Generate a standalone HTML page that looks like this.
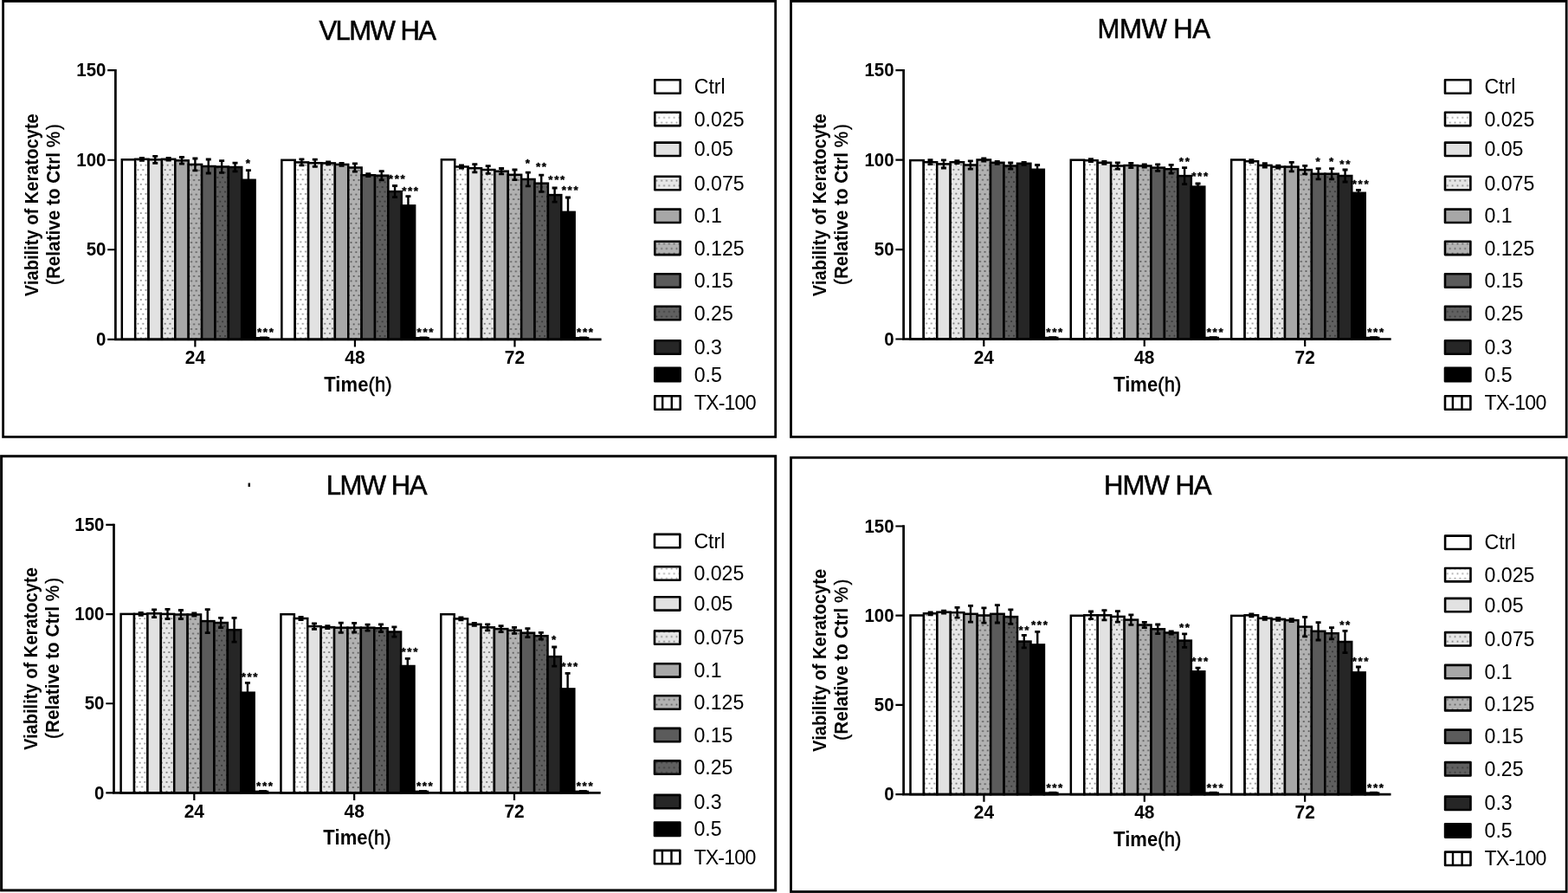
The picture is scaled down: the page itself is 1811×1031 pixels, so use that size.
<!DOCTYPE html>
<html><head><meta charset="utf-8"><title>Keratocyte viability</title>
<style>
html,body{margin:0;padding:0;background:#fff;}
body{width:1811px;height:1031px;overflow:hidden;}
svg{display:block;font-family:"Liberation Sans", Arial, Helvetica, sans-serif;}
</style></head><body>
<svg width="1811" height="1031" viewBox="0 0 1811 1031">
<rect width="1811" height="1031" fill="#fff"/>
<defs>
<pattern id="p025" patternUnits="userSpaceOnUse" width="5.8" height="11.2" x="0" y="0"><rect width="5.8" height="11.2" fill="#ffffff"/><rect x="0.6" y="0.6" width="1.7" height="1.7" fill="#9a9a9a"/><rect x="3.5" y="6.2" width="1.7" height="1.7" fill="#9a9a9a"/></pattern>
<pattern id="p075" patternUnits="userSpaceOnUse" width="5.8" height="11.2" x="0" y="0"><rect width="5.8" height="11.2" fill="#e6e6e6"/><rect x="0.6" y="0.6" width="1.7" height="1.7" fill="#7a7a7a"/><rect x="3.5" y="6.2" width="1.7" height="1.7" fill="#7a7a7a"/></pattern>
<pattern id="p125" patternUnits="userSpaceOnUse" width="5.8" height="11.2" x="0" y="0"><rect width="5.8" height="11.2" fill="#b2b2b2"/><rect x="0.6" y="0.6" width="1.7" height="1.7" fill="#5c5c5c"/><rect x="3.5" y="6.2" width="1.7" height="1.7" fill="#5c5c5c"/></pattern>
<pattern id="p25" patternUnits="userSpaceOnUse" width="5.8" height="11.2" x="0" y="0"><rect width="5.8" height="11.2" fill="#606060"/><rect x="0.6" y="0.6" width="1.7" height="1.7" fill="#383838"/><rect x="3.5" y="6.2" width="1.7" height="1.7" fill="#383838"/></pattern>
<pattern id="ptx" patternUnits="userSpaceOnUse" width="9.5" height="10"><rect width="9.5" height="10" fill="#fff"/><rect x="0" width="2.4" height="10" fill="#000"/></pattern>
</defs>
<rect x="3.6" y="1.4" width="892.1" height="503" fill="none" stroke="#000" stroke-width="2.8"/>
<text transform="translate(368.4,45.9) scale(1.02,1)" font-size="30.5" font-weight="normal" text-anchor="start" letter-spacing="-1.55" stroke="#000" stroke-width="0.55">VLMW HA</text>
<text transform="translate(43.6,236.7) rotate(-90)" font-size="21.5" font-weight="bold" text-anchor="middle" textLength="211" lengthAdjust="spacingAndGlyphs">Viability of Keratocyte</text>
<text transform="translate(68.6,236) rotate(-90)" font-size="21.5" font-weight="bold" text-anchor="middle" textLength="186" lengthAdjust="spacingAndGlyphs"><tspan font-weight="normal" stroke="#000" stroke-width="0.4">(</tspan>Relative to Ctrl <tspan font-weight="normal" stroke="#000" stroke-width="0.4">%<tspan dx="2">)</tspan></tspan></text>
<defs><pattern id="ag0s1" patternUnits="userSpaceOnUse" x="156.18" y="-53.6" width="5.75" height="11.1"><rect width="5.75" height="11.1" fill="#ffffff"/><g fill="#8e8e8e"><rect x="-0.1" y="-0.9" width="1.8" height="1.8"/><rect x="5.65" y="-0.9" width="1.8" height="1.8"/><rect x="-0.1" y="10.2" width="1.8" height="1.8"/><rect x="5.65" y="10.2" width="1.8" height="1.8"/><rect x="2.4" y="4.65" width="1.8" height="1.8"/></g></pattern><pattern id="ag0s3" patternUnits="userSpaceOnUse" x="186.94" y="-53.6" width="5.75" height="11.1"><rect width="5.75" height="11.1" fill="#e6e6e6"/><g fill="#747474"><rect x="0.05" y="-0.9" width="1.8" height="1.8"/><rect x="5.8" y="-0.9" width="1.8" height="1.8"/><rect x="0.05" y="10.2" width="1.8" height="1.8"/><rect x="5.8" y="10.2" width="1.8" height="1.8"/><rect x="2.8" y="4.65" width="1.8" height="1.8"/></g></pattern><pattern id="ag0s5" patternUnits="userSpaceOnUse" x="217.7" y="-58.5" width="5.75" height="11.1"><rect width="5.75" height="11.1" fill="#b1b1b1"/><g fill="#585858"><rect x="-0.25" y="-0.9" width="1.8" height="1.8"/><rect x="5.5" y="-0.9" width="1.8" height="1.8"/><rect x="-0.25" y="10.2" width="1.8" height="1.8"/><rect x="5.5" y="10.2" width="1.8" height="1.8"/><rect x="2.4" y="4.65" width="1.8" height="1.8"/></g></pattern><pattern id="ag0s7" patternUnits="userSpaceOnUse" x="248.45" y="-56" width="5.75" height="11.1"><rect width="5.75" height="11.1" fill="#5f5f5f"/><g fill="#363636"><rect x="-0.8" y="-0.9" width="1.8" height="1.8"/><rect x="4.95" y="-0.9" width="1.8" height="1.8"/><rect x="-0.8" y="10.2" width="1.8" height="1.8"/><rect x="4.95" y="10.2" width="1.8" height="1.8"/><rect x="2" y="4.65" width="1.8" height="1.8"/></g></pattern><pattern id="ag1s1" patternUnits="userSpaceOnUse" x="340.73" y="-53.6" width="5.75" height="11.1"><rect width="5.75" height="11.1" fill="#ffffff"/><g fill="#8e8e8e"><rect x="-0.1" y="-0.9" width="1.8" height="1.8"/><rect x="5.65" y="-0.9" width="1.8" height="1.8"/><rect x="-0.1" y="10.2" width="1.8" height="1.8"/><rect x="5.65" y="10.2" width="1.8" height="1.8"/><rect x="2.4" y="4.65" width="1.8" height="1.8"/></g></pattern><pattern id="ag1s3" patternUnits="userSpaceOnUse" x="371.49" y="-53.6" width="5.75" height="11.1"><rect width="5.75" height="11.1" fill="#e6e6e6"/><g fill="#747474"><rect x="0.05" y="-0.9" width="1.8" height="1.8"/><rect x="5.8" y="-0.9" width="1.8" height="1.8"/><rect x="0.05" y="10.2" width="1.8" height="1.8"/><rect x="5.8" y="10.2" width="1.8" height="1.8"/><rect x="2.8" y="4.65" width="1.8" height="1.8"/></g></pattern><pattern id="ag1s5" patternUnits="userSpaceOnUse" x="402.25" y="-58.5" width="5.75" height="11.1"><rect width="5.75" height="11.1" fill="#b1b1b1"/><g fill="#585858"><rect x="-0.25" y="-0.9" width="1.8" height="1.8"/><rect x="5.5" y="-0.9" width="1.8" height="1.8"/><rect x="-0.25" y="10.2" width="1.8" height="1.8"/><rect x="5.5" y="10.2" width="1.8" height="1.8"/><rect x="2.4" y="4.65" width="1.8" height="1.8"/></g></pattern><pattern id="ag1s7" patternUnits="userSpaceOnUse" x="433" y="-56" width="5.75" height="11.1"><rect width="5.75" height="11.1" fill="#5f5f5f"/><g fill="#363636"><rect x="-0.8" y="-0.9" width="1.8" height="1.8"/><rect x="4.95" y="-0.9" width="1.8" height="1.8"/><rect x="-0.8" y="10.2" width="1.8" height="1.8"/><rect x="4.95" y="10.2" width="1.8" height="1.8"/><rect x="2" y="4.65" width="1.8" height="1.8"/></g></pattern><pattern id="ag2s1" patternUnits="userSpaceOnUse" x="525.28" y="-53.6" width="5.75" height="11.1"><rect width="5.75" height="11.1" fill="#ffffff"/><g fill="#8e8e8e"><rect x="-0.1" y="-0.9" width="1.8" height="1.8"/><rect x="5.65" y="-0.9" width="1.8" height="1.8"/><rect x="-0.1" y="10.2" width="1.8" height="1.8"/><rect x="5.65" y="10.2" width="1.8" height="1.8"/><rect x="2.4" y="4.65" width="1.8" height="1.8"/></g></pattern><pattern id="ag2s3" patternUnits="userSpaceOnUse" x="556.04" y="-53.6" width="5.75" height="11.1"><rect width="5.75" height="11.1" fill="#e6e6e6"/><g fill="#747474"><rect x="0.05" y="-0.9" width="1.8" height="1.8"/><rect x="5.8" y="-0.9" width="1.8" height="1.8"/><rect x="0.05" y="10.2" width="1.8" height="1.8"/><rect x="5.8" y="10.2" width="1.8" height="1.8"/><rect x="2.8" y="4.65" width="1.8" height="1.8"/></g></pattern><pattern id="ag2s5" patternUnits="userSpaceOnUse" x="586.8" y="-58.5" width="5.75" height="11.1"><rect width="5.75" height="11.1" fill="#b1b1b1"/><g fill="#585858"><rect x="-0.25" y="-0.9" width="1.8" height="1.8"/><rect x="5.5" y="-0.9" width="1.8" height="1.8"/><rect x="-0.25" y="10.2" width="1.8" height="1.8"/><rect x="5.5" y="10.2" width="1.8" height="1.8"/><rect x="2.4" y="4.65" width="1.8" height="1.8"/></g></pattern><pattern id="ag2s7" patternUnits="userSpaceOnUse" x="617.55" y="-56" width="5.75" height="11.1"><rect width="5.75" height="11.1" fill="#5f5f5f"/><g fill="#363636"><rect x="-0.8" y="-0.9" width="1.8" height="1.8"/><rect x="4.95" y="-0.9" width="1.8" height="1.8"/><rect x="-0.8" y="10.2" width="1.8" height="1.8"/><rect x="4.95" y="10.2" width="1.8" height="1.8"/><rect x="2" y="4.65" width="1.8" height="1.8"/></g></pattern></defs>
<g><rect x="140.8" y="184.3" width="15.38" height="207.5" fill="#ffffff" stroke="#000" stroke-width="2.5"/><rect x="156.18" y="183.8" width="15.38" height="208" fill="url(#ag0s1)" stroke="#000" stroke-width="2.5"/><rect x="171.56" y="184.3" width="15.38" height="207.5" fill="#e2e2e2" stroke="#000" stroke-width="2.5"/><rect x="186.94" y="183.8" width="15.38" height="208" fill="url(#ag0s3)" stroke="#000" stroke-width="2.5"/><rect x="202.32" y="185.3" width="15.38" height="206.5" fill="#a7a7a7" stroke="#000" stroke-width="2.5"/><rect x="217.7" y="189.9" width="15.38" height="201.9" fill="url(#ag0s5)" stroke="#000" stroke-width="2.5"/><rect x="233.08" y="192" width="15.38" height="199.8" fill="#5b5b5b" stroke="#000" stroke-width="2.5"/><rect x="248.45" y="192.5" width="15.38" height="199.3" fill="url(#ag0s7)" stroke="#000" stroke-width="2.5"/><rect x="263.83" y="193" width="15.38" height="198.8" fill="#262626" stroke="#000" stroke-width="2.5"/><rect x="279.21" y="207.8" width="15.38" height="184" fill="#000000" stroke="#000" stroke-width="2.5"/><rect x="294.59" y="390.3" width="15.38" height="1.5" fill="url(#ptx)" stroke="#000" stroke-width="2.5"/><rect x="300.09" y="388.5" width="9" height="3" fill="#000"/><rect x="325.35" y="184.8" width="15.38" height="207" fill="#ffffff" stroke="#000" stroke-width="2.5"/><rect x="340.73" y="187.4" width="15.38" height="204.4" fill="url(#ag1s1)" stroke="#000" stroke-width="2.5"/><rect x="356.11" y="188.2" width="15.38" height="203.6" fill="#e2e2e2" stroke="#000" stroke-width="2.5"/><rect x="371.49" y="188.4" width="15.38" height="203.4" fill="url(#ag1s3)" stroke="#000" stroke-width="2.5"/><rect x="386.87" y="189.9" width="15.38" height="201.9" fill="#a7a7a7" stroke="#000" stroke-width="2.5"/><rect x="402.25" y="193.5" width="15.38" height="198.3" fill="url(#ag1s5)" stroke="#000" stroke-width="2.5"/><rect x="417.62" y="202.2" width="15.38" height="189.6" fill="#5b5b5b" stroke="#000" stroke-width="2.5"/><rect x="433" y="202.7" width="15.38" height="189.1" fill="url(#ag1s7)" stroke="#000" stroke-width="2.5"/><rect x="448.38" y="221.1" width="15.38" height="170.7" fill="#262626" stroke="#000" stroke-width="2.5"/><rect x="463.76" y="237.4" width="15.38" height="154.4" fill="#000000" stroke="#000" stroke-width="2.5"/><rect x="479.14" y="390.3" width="15.38" height="1.5" fill="url(#ptx)" stroke="#000" stroke-width="2.5"/><rect x="484.64" y="388.5" width="9" height="3" fill="#000"/><rect x="509.9" y="184.3" width="15.38" height="207.5" fill="#ffffff" stroke="#000" stroke-width="2.5"/><rect x="525.28" y="192.5" width="15.38" height="199.3" fill="url(#ag2s1)" stroke="#000" stroke-width="2.5"/><rect x="540.66" y="194.2" width="15.38" height="197.6" fill="#e2e2e2" stroke="#000" stroke-width="2.5"/><rect x="556.04" y="196" width="15.38" height="195.8" fill="url(#ag2s3)" stroke="#000" stroke-width="2.5"/><rect x="571.42" y="197.7" width="15.38" height="194.1" fill="#a7a7a7" stroke="#000" stroke-width="2.5"/><rect x="586.8" y="201.8" width="15.38" height="190" fill="url(#ag2s5)" stroke="#000" stroke-width="2.5"/><rect x="602.18" y="207" width="15.38" height="184.8" fill="#5b5b5b" stroke="#000" stroke-width="2.5"/><rect x="617.55" y="211.7" width="15.38" height="180.1" fill="url(#ag2s7)" stroke="#000" stroke-width="2.5"/><rect x="632.93" y="225.1" width="15.38" height="166.7" fill="#262626" stroke="#000" stroke-width="2.5"/><rect x="648.31" y="244.9" width="15.38" height="146.9" fill="#000000" stroke="#000" stroke-width="2.5"/><rect x="663.69" y="390.3" width="15.38" height="1.5" fill="url(#ptx)" stroke="#000" stroke-width="2.5"/><rect x="669.19" y="388.5" width="9" height="3" fill="#000"/></g>
<path d="M163.87 182.3V185.3M179.25 180.3V188.3M194.63 182.5V185.1M210.01 181.5V189.1M225.39 183V196.8M240.76 184V200M256.14 185.6V199.4M271.52 188.1V197.9M286.9 196.6V219M348.42 183.9V190.9M363.8 184.1V192.3M379.18 186.9V189.9M394.56 188.4V191.4M409.94 188.9V198.1M425.31 200.7V203.7M440.69 197.6V207.8M456.07 214.5V227.7M471.45 226.7V248.1M532.97 191V194M548.35 189.6V198.8M563.73 191.6V200.4M579.11 194.5V200.9M594.49 196V207.6M609.86 199.2V214.8M625.24 202.1V221.3M640.62 217V233.2M656 228V261.8" stroke="#000" stroke-width="2.4" fill="none"/>
<path d="M160.87 182.3H166.87M160.87 185.3H166.87M176.25 180.3H182.25M176.25 188.3H182.25M191.63 182.5H197.63M191.63 185.1H197.63M207.01 181.5H213.01M207.01 189.1H213.01M222.39 183H228.39M222.39 196.8H228.39M237.76 184H243.76M237.76 200H243.76M253.14 185.6H259.14M253.14 199.4H259.14M268.52 188.1H274.52M268.52 197.9H274.52M283.9 196.6H289.9M283.9 219H289.9M345.42 183.9H351.42M345.42 190.9H351.42M360.8 184.1H366.8M360.8 192.3H366.8M376.18 186.9H382.18M376.18 189.9H382.18M391.56 188.4H397.56M391.56 191.4H397.56M406.94 188.9H412.94M406.94 198.1H412.94M422.31 200.7H428.31M422.31 203.7H428.31M437.69 197.6H443.69M437.69 207.8H443.69M453.07 214.5H459.07M453.07 227.7H459.07M468.45 226.7H474.45M468.45 248.1H474.45M529.97 191H535.97M529.97 194H535.97M545.35 189.6H551.35M545.35 198.8H551.35M560.73 191.6H566.73M560.73 200.4H566.73M576.11 194.5H582.11M576.11 200.9H582.11M591.49 196H597.49M591.49 207.6H597.49M606.86 199.2H612.86M606.86 214.8H612.86M622.24 202.1H628.24M622.24 221.3H628.24M637.62 217H643.62M637.62 233.2H643.62M653 228H659M653 261.8H659" stroke="#000" stroke-width="2.8" fill="none"/>
<g text-anchor="middle" font-size="13.5" font-weight="bold" letter-spacing="1.6" stroke="#000" stroke-width="0.4" stroke-linejoin="round"><text x="287.2" y="193.1">*</text><text x="307.28" y="388.4">***</text><text x="459.07" y="211.4">***</text><text x="474.45" y="225.2">***</text><text x="491.83" y="388.4">***</text><text x="610.16" y="192.9">*</text><text x="625.84" y="196.9">**</text><text x="643.62" y="212.1">***</text><text x="659" y="223.7">***</text><text x="676.38" y="388.4">***</text></g>
<path d="M133.4 79.99V393.1M132.1 391.8H694.6" stroke="#000" stroke-width="2.7" fill="none"/>
<path d="M124.2 81.19H133.4M124.2 184.73H133.4M124.2 288.26H133.4M124.2 391.8H133.4M225.39 391.8V400.4M409.94 391.8V400.4M594.49 391.8V400.4" stroke="#000" stroke-width="2.2" fill="none"/>
<text transform="translate(122.4,88.39) scale(0.93,1)" font-size="22" font-weight="bold" text-anchor="end" >150</text>
<text transform="translate(122.4,191.93) scale(0.93,1)" font-size="22" font-weight="bold" text-anchor="end" >100</text>
<text transform="translate(122.4,295.46) scale(0.93,1)" font-size="22" font-weight="bold" text-anchor="end" >50</text>
<text transform="translate(122.4,399) scale(0.93,1)" font-size="22" font-weight="bold" text-anchor="end" >0</text>
<text transform="translate(225.39,420) scale(0.93,1)" font-size="22.5" font-weight="bold" text-anchor="middle" >24</text>
<text transform="translate(409.94,420) scale(0.93,1)" font-size="22.5" font-weight="bold" text-anchor="middle" >48</text>
<text transform="translate(594.49,420) scale(0.93,1)" font-size="22.5" font-weight="bold" text-anchor="middle" >72</text>
<text transform="translate(413.4,451.8) scale(0.95,1)" font-size="23.2" font-weight="bold" text-anchor="middle" textLength="82.5">Time<tspan font-weight="normal" stroke="#000" stroke-width="0.55">(h)</tspan></text>
<rect x="756.3" y="92.3" width="29.4" height="15.4" stroke-linejoin="round" fill="#ffffff" stroke="#000" stroke-width="2.6"/>
<text transform="translate(801.7,108.1) scale(0.965,1)" font-size="24" font-weight="normal" text-anchor="start" >Ctrl</text>
<rect x="756.3" y="129.7" width="29.4" height="15.4" stroke-linejoin="round" fill="url(#p025)" stroke="#000" stroke-width="2.6"/>
<text transform="translate(801.7,145.5) scale(0.965,1)" font-size="24" font-weight="normal" text-anchor="start" >0.025</text>
<rect x="756.3" y="164.6" width="29.4" height="15.4" stroke-linejoin="round" fill="#e2e2e2" stroke="#000" stroke-width="2.6"/>
<text transform="translate(801.7,180.4) scale(0.965,1)" font-size="24" font-weight="normal" text-anchor="start" >0.05</text>
<rect x="756.3" y="203.8" width="29.4" height="15.4" stroke-linejoin="round" fill="url(#p075)" stroke="#000" stroke-width="2.6"/>
<text transform="translate(801.7,219.6) scale(0.965,1)" font-size="24" font-weight="normal" text-anchor="start" >0.075</text>
<rect x="756.3" y="241.6" width="29.4" height="15.4" stroke-linejoin="round" fill="#a7a7a7" stroke="#000" stroke-width="2.6"/>
<text transform="translate(801.7,257.4) scale(0.965,1)" font-size="24" font-weight="normal" text-anchor="start" >0.1</text>
<rect x="756.3" y="278.7" width="29.4" height="15.4" stroke-linejoin="round" fill="url(#p125)" stroke="#000" stroke-width="2.6"/>
<text transform="translate(801.7,294.5) scale(0.965,1)" font-size="24" font-weight="normal" text-anchor="start" >0.125</text>
<rect x="756.3" y="316.3" width="29.4" height="15.4" stroke-linejoin="round" fill="#5b5b5b" stroke="#000" stroke-width="2.6"/>
<text transform="translate(801.7,332.1) scale(0.965,1)" font-size="24" font-weight="normal" text-anchor="start" >0.15</text>
<rect x="756.3" y="353.8" width="29.4" height="15.4" stroke-linejoin="round" fill="url(#p25)" stroke="#000" stroke-width="2.6"/>
<text transform="translate(801.7,369.6) scale(0.965,1)" font-size="24" font-weight="normal" text-anchor="start" >0.25</text>
<rect x="756.3" y="393.3" width="29.4" height="15.4" stroke-linejoin="round" fill="#262626" stroke="#000" stroke-width="2.6"/>
<text transform="translate(801.7,409.1) scale(0.965,1)" font-size="24" font-weight="normal" text-anchor="start" >0.3</text>
<rect x="756.3" y="424.9" width="29.4" height="15.4" stroke-linejoin="round" fill="#000000" stroke="#000" stroke-width="2.6"/>
<text transform="translate(801.7,440.7) scale(0.965,1)" font-size="24" font-weight="normal" text-anchor="start" >0.5</text>
<rect x="756.3" y="457.3" width="29.4" height="15.4" stroke-linejoin="round" fill="#fff" stroke="#000" stroke-width="2.6"/>
<path d="M765.2 457.4V472.6M775.8 457.4V472.6" stroke="#000" stroke-width="2.4"/>
<text transform="translate(801.7,473.1) scale(0.965,1)" font-size="24" font-weight="normal" text-anchor="start" textLength="74.5">TX-100</text>
<rect x="913.5" y="1.4" width="895.7" height="503" fill="none" stroke="#000" stroke-width="2.8"/>
<text transform="translate(1267.6,44.3) scale(1.02,1)" font-size="30.5" font-weight="normal" text-anchor="start" letter-spacing="-0.5" stroke="#000" stroke-width="0.55">MMW HA</text>
<text transform="translate(954.1,236.7) rotate(-90)" font-size="21.5" font-weight="bold" text-anchor="middle" textLength="211" lengthAdjust="spacingAndGlyphs">Viability of Keratocyte</text>
<text transform="translate(979,236) rotate(-90)" font-size="21.5" font-weight="bold" text-anchor="middle" textLength="186" lengthAdjust="spacingAndGlyphs"><tspan font-weight="normal" stroke="#000" stroke-width="0.4">(</tspan>Relative to Ctrl <tspan font-weight="normal" stroke="#000" stroke-width="0.4">%<tspan dx="2">)</tspan></tspan></text>
<defs><pattern id="bg0s1" patternUnits="userSpaceOnUse" x="1066.75" y="-53.9" width="5.75" height="11.1"><rect width="5.75" height="11.1" fill="#ffffff"/><g fill="#8e8e8e"><rect x="-0.1" y="-0.9" width="1.8" height="1.8"/><rect x="5.65" y="-0.9" width="1.8" height="1.8"/><rect x="-0.1" y="10.2" width="1.8" height="1.8"/><rect x="5.65" y="10.2" width="1.8" height="1.8"/><rect x="2.4" y="4.65" width="1.8" height="1.8"/></g></pattern><pattern id="bg0s3" patternUnits="userSpaceOnUse" x="1097.66" y="-53.9" width="5.75" height="11.1"><rect width="5.75" height="11.1" fill="#e6e6e6"/><g fill="#747474"><rect x="0.05" y="-0.9" width="1.8" height="1.8"/><rect x="5.8" y="-0.9" width="1.8" height="1.8"/><rect x="0.05" y="10.2" width="1.8" height="1.8"/><rect x="5.8" y="10.2" width="1.8" height="1.8"/><rect x="2.8" y="4.65" width="1.8" height="1.8"/></g></pattern><pattern id="bg0s5" patternUnits="userSpaceOnUse" x="1128.57" y="-58.8" width="5.75" height="11.1"><rect width="5.75" height="11.1" fill="#b1b1b1"/><g fill="#585858"><rect x="-0.25" y="-0.9" width="1.8" height="1.8"/><rect x="5.5" y="-0.9" width="1.8" height="1.8"/><rect x="-0.25" y="10.2" width="1.8" height="1.8"/><rect x="5.5" y="10.2" width="1.8" height="1.8"/><rect x="2.4" y="4.65" width="1.8" height="1.8"/></g></pattern><pattern id="bg0s7" patternUnits="userSpaceOnUse" x="1159.48" y="-56.3" width="5.75" height="11.1"><rect width="5.75" height="11.1" fill="#5f5f5f"/><g fill="#363636"><rect x="-0.8" y="-0.9" width="1.8" height="1.8"/><rect x="4.95" y="-0.9" width="1.8" height="1.8"/><rect x="-0.8" y="10.2" width="1.8" height="1.8"/><rect x="4.95" y="10.2" width="1.8" height="1.8"/><rect x="2" y="4.65" width="1.8" height="1.8"/></g></pattern><pattern id="bg1s1" patternUnits="userSpaceOnUse" x="1252.2" y="-53.9" width="5.75" height="11.1"><rect width="5.75" height="11.1" fill="#ffffff"/><g fill="#8e8e8e"><rect x="-0.1" y="-0.9" width="1.8" height="1.8"/><rect x="5.65" y="-0.9" width="1.8" height="1.8"/><rect x="-0.1" y="10.2" width="1.8" height="1.8"/><rect x="5.65" y="10.2" width="1.8" height="1.8"/><rect x="2.4" y="4.65" width="1.8" height="1.8"/></g></pattern><pattern id="bg1s3" patternUnits="userSpaceOnUse" x="1283.11" y="-53.9" width="5.75" height="11.1"><rect width="5.75" height="11.1" fill="#e6e6e6"/><g fill="#747474"><rect x="0.05" y="-0.9" width="1.8" height="1.8"/><rect x="5.8" y="-0.9" width="1.8" height="1.8"/><rect x="0.05" y="10.2" width="1.8" height="1.8"/><rect x="5.8" y="10.2" width="1.8" height="1.8"/><rect x="2.8" y="4.65" width="1.8" height="1.8"/></g></pattern><pattern id="bg1s5" patternUnits="userSpaceOnUse" x="1314.02" y="-58.8" width="5.75" height="11.1"><rect width="5.75" height="11.1" fill="#b1b1b1"/><g fill="#585858"><rect x="-0.25" y="-0.9" width="1.8" height="1.8"/><rect x="5.5" y="-0.9" width="1.8" height="1.8"/><rect x="-0.25" y="10.2" width="1.8" height="1.8"/><rect x="5.5" y="10.2" width="1.8" height="1.8"/><rect x="2.4" y="4.65" width="1.8" height="1.8"/></g></pattern><pattern id="bg1s7" patternUnits="userSpaceOnUse" x="1344.93" y="-56.3" width="5.75" height="11.1"><rect width="5.75" height="11.1" fill="#5f5f5f"/><g fill="#363636"><rect x="-0.8" y="-0.9" width="1.8" height="1.8"/><rect x="4.95" y="-0.9" width="1.8" height="1.8"/><rect x="-0.8" y="10.2" width="1.8" height="1.8"/><rect x="4.95" y="10.2" width="1.8" height="1.8"/><rect x="2" y="4.65" width="1.8" height="1.8"/></g></pattern><pattern id="bg2s1" patternUnits="userSpaceOnUse" x="1437.65" y="-53.9" width="5.75" height="11.1"><rect width="5.75" height="11.1" fill="#ffffff"/><g fill="#8e8e8e"><rect x="-0.1" y="-0.9" width="1.8" height="1.8"/><rect x="5.65" y="-0.9" width="1.8" height="1.8"/><rect x="-0.1" y="10.2" width="1.8" height="1.8"/><rect x="5.65" y="10.2" width="1.8" height="1.8"/><rect x="2.4" y="4.65" width="1.8" height="1.8"/></g></pattern><pattern id="bg2s3" patternUnits="userSpaceOnUse" x="1468.56" y="-53.9" width="5.75" height="11.1"><rect width="5.75" height="11.1" fill="#e6e6e6"/><g fill="#747474"><rect x="0.05" y="-0.9" width="1.8" height="1.8"/><rect x="5.8" y="-0.9" width="1.8" height="1.8"/><rect x="0.05" y="10.2" width="1.8" height="1.8"/><rect x="5.8" y="10.2" width="1.8" height="1.8"/><rect x="2.8" y="4.65" width="1.8" height="1.8"/></g></pattern><pattern id="bg2s5" patternUnits="userSpaceOnUse" x="1499.47" y="-58.8" width="5.75" height="11.1"><rect width="5.75" height="11.1" fill="#b1b1b1"/><g fill="#585858"><rect x="-0.25" y="-0.9" width="1.8" height="1.8"/><rect x="5.5" y="-0.9" width="1.8" height="1.8"/><rect x="-0.25" y="10.2" width="1.8" height="1.8"/><rect x="5.5" y="10.2" width="1.8" height="1.8"/><rect x="2.4" y="4.65" width="1.8" height="1.8"/></g></pattern><pattern id="bg2s7" patternUnits="userSpaceOnUse" x="1530.38" y="-56.3" width="5.75" height="11.1"><rect width="5.75" height="11.1" fill="#5f5f5f"/><g fill="#363636"><rect x="-0.8" y="-0.9" width="1.8" height="1.8"/><rect x="4.95" y="-0.9" width="1.8" height="1.8"/><rect x="-0.8" y="10.2" width="1.8" height="1.8"/><rect x="4.95" y="10.2" width="1.8" height="1.8"/><rect x="2" y="4.65" width="1.8" height="1.8"/></g></pattern></defs>
<g><rect x="1051.3" y="185.1" width="15.45" height="206.4" fill="#ffffff" stroke="#000" stroke-width="2.5"/><rect x="1066.75" y="187.2" width="15.45" height="204.3" fill="url(#bg0s1)" stroke="#000" stroke-width="2.5"/><rect x="1082.21" y="189.4" width="15.45" height="202.1" fill="#e2e2e2" stroke="#000" stroke-width="2.5"/><rect x="1097.66" y="187.2" width="15.45" height="204.3" fill="url(#bg0s3)" stroke="#000" stroke-width="2.5"/><rect x="1113.12" y="190.5" width="15.45" height="201" fill="#a7a7a7" stroke="#000" stroke-width="2.5"/><rect x="1128.57" y="184.5" width="15.45" height="207" fill="url(#bg0s5)" stroke="#000" stroke-width="2.5"/><rect x="1144.02" y="187.8" width="15.45" height="203.7" fill="#5b5b5b" stroke="#000" stroke-width="2.5"/><rect x="1159.48" y="191.5" width="15.45" height="200" fill="url(#bg0s7)" stroke="#000" stroke-width="2.5"/><rect x="1174.93" y="188.8" width="15.45" height="202.7" fill="#262626" stroke="#000" stroke-width="2.5"/><rect x="1190.39" y="195.8" width="15.45" height="195.7" fill="#000000" stroke="#000" stroke-width="2.5"/><rect x="1205.84" y="390" width="15.45" height="1.5" fill="url(#ptx)" stroke="#000" stroke-width="2.5"/><rect x="1211.34" y="388.2" width="9" height="3" fill="#000"/><rect x="1236.75" y="184.7" width="15.45" height="206.8" fill="#ffffff" stroke="#000" stroke-width="2.5"/><rect x="1252.2" y="185.2" width="15.45" height="206.3" fill="url(#bg1s1)" stroke="#000" stroke-width="2.5"/><rect x="1267.66" y="187.8" width="15.45" height="203.7" fill="#e2e2e2" stroke="#000" stroke-width="2.5"/><rect x="1283.11" y="191.5" width="15.45" height="200" fill="url(#bg1s3)" stroke="#000" stroke-width="2.5"/><rect x="1298.57" y="191" width="15.45" height="200.5" fill="#a7a7a7" stroke="#000" stroke-width="2.5"/><rect x="1314.02" y="191.5" width="15.45" height="200" fill="url(#bg1s5)" stroke="#000" stroke-width="2.5"/><rect x="1329.47" y="193.6" width="15.45" height="197.9" fill="#5b5b5b" stroke="#000" stroke-width="2.5"/><rect x="1344.93" y="195.2" width="15.45" height="196.3" fill="url(#bg1s7)" stroke="#000" stroke-width="2.5"/><rect x="1360.38" y="203.1" width="15.45" height="188.4" fill="#262626" stroke="#000" stroke-width="2.5"/><rect x="1375.84" y="215.6" width="15.45" height="175.9" fill="#000000" stroke="#000" stroke-width="2.5"/><rect x="1391.29" y="390" width="15.45" height="1.5" fill="url(#ptx)" stroke="#000" stroke-width="2.5"/><rect x="1396.79" y="388.2" width="9" height="3" fill="#000"/><rect x="1422.2" y="184.5" width="15.45" height="207" fill="#ffffff" stroke="#000" stroke-width="2.5"/><rect x="1437.65" y="186.2" width="15.45" height="205.3" fill="url(#bg2s1)" stroke="#000" stroke-width="2.5"/><rect x="1453.11" y="190.9" width="15.45" height="200.6" fill="#e2e2e2" stroke="#000" stroke-width="2.5"/><rect x="1468.56" y="192.6" width="15.45" height="198.9" fill="url(#bg2s3)" stroke="#000" stroke-width="2.5"/><rect x="1484.02" y="192.6" width="15.45" height="198.9" fill="#a7a7a7" stroke="#000" stroke-width="2.5"/><rect x="1499.47" y="196.1" width="15.45" height="195.4" fill="url(#bg2s5)" stroke="#000" stroke-width="2.5"/><rect x="1514.92" y="200.7" width="15.45" height="190.8" fill="#5b5b5b" stroke="#000" stroke-width="2.5"/><rect x="1530.38" y="200.7" width="15.45" height="190.8" fill="url(#bg2s7)" stroke="#000" stroke-width="2.5"/><rect x="1545.83" y="203" width="15.45" height="188.5" fill="#262626" stroke="#000" stroke-width="2.5"/><rect x="1561.29" y="222.8" width="15.45" height="168.7" fill="#000000" stroke="#000" stroke-width="2.5"/><rect x="1576.74" y="390" width="15.45" height="1.5" fill="url(#ptx)" stroke="#000" stroke-width="2.5"/><rect x="1582.24" y="388.2" width="9" height="3" fill="#000"/></g>
<path d="M1074.48 184.7V189.7M1089.94 184.8V194M1105.39 185.7V188.7M1120.84 185.9V195.1M1136.3 183V186M1151.75 186.3V189.3M1167.21 188V195M1182.66 187.3V190.3M1198.11 190.5V201.1M1259.93 183.7V186.7M1275.39 186.3V189.3M1290.84 187.8V195.2M1306.29 188.3V193.7M1321.75 190V193M1337.2 189.9V197.3M1352.66 190.3V200.1M1368.11 193.6V212.6M1383.56 212V219.2M1445.38 184.7V187.7M1460.84 188.6V193.2M1476.29 191.1V194.1M1491.74 187.4V197.8M1507.2 191.4V200.8M1522.65 194.6V206.8M1538.11 194.6V206.8M1553.56 196V210M1569.01 219.3V226.3" stroke="#000" stroke-width="2.4" fill="none"/>
<path d="M1071.48 184.7H1077.48M1071.48 189.7H1077.48M1086.94 184.8H1092.94M1086.94 194H1092.94M1102.39 185.7H1108.39M1102.39 188.7H1108.39M1117.84 185.9H1123.84M1117.84 195.1H1123.84M1133.3 183H1139.3M1133.3 186H1139.3M1148.75 186.3H1154.75M1148.75 189.3H1154.75M1164.21 188H1170.21M1164.21 195H1170.21M1179.66 187.3H1185.66M1179.66 190.3H1185.66M1195.11 190.5H1201.11M1195.11 201.1H1201.11M1256.93 183.7H1262.93M1256.93 186.7H1262.93M1272.39 186.3H1278.39M1272.39 189.3H1278.39M1287.84 187.8H1293.84M1287.84 195.2H1293.84M1303.29 188.3H1309.29M1303.29 193.7H1309.29M1318.75 190H1324.75M1318.75 193H1324.75M1334.2 189.9H1340.2M1334.2 197.3H1340.2M1349.66 190.3H1355.66M1349.66 200.1H1355.66M1365.11 193.6H1371.11M1365.11 212.6H1371.11M1380.56 212H1386.56M1380.56 219.2H1386.56M1442.38 184.7H1448.38M1442.38 187.7H1448.38M1457.84 188.6H1463.84M1457.84 193.2H1463.84M1473.29 191.1H1479.29M1473.29 194.1H1479.29M1488.74 187.4H1494.74M1488.74 197.8H1494.74M1504.2 191.4H1510.2M1504.2 200.8H1510.2M1519.65 194.6H1525.65M1519.65 206.8H1525.65M1535.11 194.6H1541.11M1535.11 206.8H1541.11M1550.56 196H1556.56M1550.56 210H1556.56M1566.01 219.3H1572.01M1566.01 226.3H1572.01" stroke="#000" stroke-width="2.8" fill="none"/>
<g text-anchor="middle" font-size="13.5" font-weight="bold" letter-spacing="1.6" stroke="#000" stroke-width="0.4" stroke-linejoin="round"><text x="1218.57" y="388.1">***</text><text x="1368.71" y="191.4">**</text><text x="1386.56" y="208.2">***</text><text x="1404.02" y="388.1">***</text><text x="1522.95" y="191.3">*</text><text x="1538.41" y="191.3">*</text><text x="1554.16" y="194.2">**</text><text x="1572.01" y="216.8">***</text><text x="1589.47" y="388.1">***</text></g>
<path d="M1043.6 79.95V392.8M1042.3 391.5H1606.7" stroke="#000" stroke-width="2.7" fill="none"/>
<path d="M1034.4 81.15H1043.6M1034.4 184.6H1043.6M1034.4 288.05H1043.6M1034.4 391.5H1043.6M1136.3 391.5V400.1M1321.75 391.5V400.1M1507.2 391.5V400.1" stroke="#000" stroke-width="2.2" fill="none"/>
<text transform="translate(1032.6,88.35) scale(0.93,1)" font-size="22" font-weight="bold" text-anchor="end" >150</text>
<text transform="translate(1032.6,191.8) scale(0.93,1)" font-size="22" font-weight="bold" text-anchor="end" >100</text>
<text transform="translate(1032.6,295.25) scale(0.93,1)" font-size="22" font-weight="bold" text-anchor="end" >50</text>
<text transform="translate(1032.6,398.7) scale(0.93,1)" font-size="22" font-weight="bold" text-anchor="end" >0</text>
<text transform="translate(1136.3,419.7) scale(0.93,1)" font-size="22.5" font-weight="bold" text-anchor="middle" >24</text>
<text transform="translate(1321.75,419.7) scale(0.93,1)" font-size="22.5" font-weight="bold" text-anchor="middle" >48</text>
<text transform="translate(1507.2,419.7) scale(0.93,1)" font-size="22.5" font-weight="bold" text-anchor="middle" >72</text>
<text transform="translate(1325.2,451.5) scale(0.95,1)" font-size="23.2" font-weight="bold" text-anchor="middle" textLength="82.5">Time<tspan font-weight="normal" stroke="#000" stroke-width="0.55">(h)</tspan></text>
<rect x="1669" y="92.3" width="29.4" height="15.4" stroke-linejoin="round" fill="#ffffff" stroke="#000" stroke-width="2.6"/>
<text transform="translate(1714.4,108.1) scale(0.965,1)" font-size="24" font-weight="normal" text-anchor="start" >Ctrl</text>
<rect x="1669" y="129.7" width="29.4" height="15.4" stroke-linejoin="round" fill="url(#p025)" stroke="#000" stroke-width="2.6"/>
<text transform="translate(1714.4,145.5) scale(0.965,1)" font-size="24" font-weight="normal" text-anchor="start" >0.025</text>
<rect x="1669" y="164.6" width="29.4" height="15.4" stroke-linejoin="round" fill="#e2e2e2" stroke="#000" stroke-width="2.6"/>
<text transform="translate(1714.4,180.4) scale(0.965,1)" font-size="24" font-weight="normal" text-anchor="start" >0.05</text>
<rect x="1669" y="203.8" width="29.4" height="15.4" stroke-linejoin="round" fill="url(#p075)" stroke="#000" stroke-width="2.6"/>
<text transform="translate(1714.4,219.6) scale(0.965,1)" font-size="24" font-weight="normal" text-anchor="start" >0.075</text>
<rect x="1669" y="241.6" width="29.4" height="15.4" stroke-linejoin="round" fill="#a7a7a7" stroke="#000" stroke-width="2.6"/>
<text transform="translate(1714.4,257.4) scale(0.965,1)" font-size="24" font-weight="normal" text-anchor="start" >0.1</text>
<rect x="1669" y="278.7" width="29.4" height="15.4" stroke-linejoin="round" fill="url(#p125)" stroke="#000" stroke-width="2.6"/>
<text transform="translate(1714.4,294.5) scale(0.965,1)" font-size="24" font-weight="normal" text-anchor="start" >0.125</text>
<rect x="1669" y="316.3" width="29.4" height="15.4" stroke-linejoin="round" fill="#5b5b5b" stroke="#000" stroke-width="2.6"/>
<text transform="translate(1714.4,332.1) scale(0.965,1)" font-size="24" font-weight="normal" text-anchor="start" >0.15</text>
<rect x="1669" y="353.8" width="29.4" height="15.4" stroke-linejoin="round" fill="url(#p25)" stroke="#000" stroke-width="2.6"/>
<text transform="translate(1714.4,369.6) scale(0.965,1)" font-size="24" font-weight="normal" text-anchor="start" >0.25</text>
<rect x="1669" y="393.3" width="29.4" height="15.4" stroke-linejoin="round" fill="#262626" stroke="#000" stroke-width="2.6"/>
<text transform="translate(1714.4,409.1) scale(0.965,1)" font-size="24" font-weight="normal" text-anchor="start" >0.3</text>
<rect x="1669" y="424.9" width="29.4" height="15.4" stroke-linejoin="round" fill="#000000" stroke="#000" stroke-width="2.6"/>
<text transform="translate(1714.4,440.7) scale(0.965,1)" font-size="24" font-weight="normal" text-anchor="start" >0.5</text>
<rect x="1669" y="457.3" width="29.4" height="15.4" stroke-linejoin="round" fill="#fff" stroke="#000" stroke-width="2.6"/>
<path d="M1677.9 457.4V472.6M1688.5 457.4V472.6" stroke="#000" stroke-width="2.4"/>
<text transform="translate(1714.4,473.1) scale(0.965,1)" font-size="24" font-weight="normal" text-anchor="start" textLength="74.5">TX-100</text>
<rect x="1.6" y="526.7" width="894.1" height="501.2" fill="none" stroke="#000" stroke-width="3"/>
<text transform="translate(376.7,570.8) scale(1.02,1)" font-size="30.5" font-weight="normal" text-anchor="start" letter-spacing="-1.5" stroke="#000" stroke-width="0.55">LMW HA</text>
<text transform="translate(42.6,760.6) rotate(-90)" font-size="21.5" font-weight="bold" text-anchor="middle" textLength="211" lengthAdjust="spacingAndGlyphs">Viability of Keratocyte</text>
<text transform="translate(67.6,759.9) rotate(-90)" font-size="21.5" font-weight="bold" text-anchor="middle" textLength="186" lengthAdjust="spacingAndGlyphs"><tspan font-weight="normal" stroke="#000" stroke-width="0.4">(</tspan>Relative to Ctrl <tspan font-weight="normal" stroke="#000" stroke-width="0.4">%<tspan dx="2">)</tspan></tspan></text>
<defs><pattern id="cg0s1" patternUnits="userSpaceOnUse" x="155" y="470" width="5.75" height="11.1"><rect width="5.75" height="11.1" fill="#ffffff"/><g fill="#8e8e8e"><rect x="-0.1" y="-0.9" width="1.8" height="1.8"/><rect x="5.65" y="-0.9" width="1.8" height="1.8"/><rect x="-0.1" y="10.2" width="1.8" height="1.8"/><rect x="5.65" y="10.2" width="1.8" height="1.8"/><rect x="2.4" y="4.65" width="1.8" height="1.8"/></g></pattern><pattern id="cg0s3" patternUnits="userSpaceOnUse" x="185.81" y="470" width="5.75" height="11.1"><rect width="5.75" height="11.1" fill="#e6e6e6"/><g fill="#747474"><rect x="0.05" y="-0.9" width="1.8" height="1.8"/><rect x="5.8" y="-0.9" width="1.8" height="1.8"/><rect x="0.05" y="10.2" width="1.8" height="1.8"/><rect x="5.8" y="10.2" width="1.8" height="1.8"/><rect x="2.8" y="4.65" width="1.8" height="1.8"/></g></pattern><pattern id="cg0s5" patternUnits="userSpaceOnUse" x="216.62" y="465.1" width="5.75" height="11.1"><rect width="5.75" height="11.1" fill="#b1b1b1"/><g fill="#585858"><rect x="-0.25" y="-0.9" width="1.8" height="1.8"/><rect x="5.5" y="-0.9" width="1.8" height="1.8"/><rect x="-0.25" y="10.2" width="1.8" height="1.8"/><rect x="5.5" y="10.2" width="1.8" height="1.8"/><rect x="2.4" y="4.65" width="1.8" height="1.8"/></g></pattern><pattern id="cg0s7" patternUnits="userSpaceOnUse" x="247.43" y="467.6" width="5.75" height="11.1"><rect width="5.75" height="11.1" fill="#5f5f5f"/><g fill="#363636"><rect x="-0.8" y="-0.9" width="1.8" height="1.8"/><rect x="4.95" y="-0.9" width="1.8" height="1.8"/><rect x="-0.8" y="10.2" width="1.8" height="1.8"/><rect x="4.95" y="10.2" width="1.8" height="1.8"/><rect x="2" y="4.65" width="1.8" height="1.8"/></g></pattern><pattern id="cg1s1" patternUnits="userSpaceOnUse" x="339.85" y="470" width="5.75" height="11.1"><rect width="5.75" height="11.1" fill="#ffffff"/><g fill="#8e8e8e"><rect x="-0.1" y="-0.9" width="1.8" height="1.8"/><rect x="5.65" y="-0.9" width="1.8" height="1.8"/><rect x="-0.1" y="10.2" width="1.8" height="1.8"/><rect x="5.65" y="10.2" width="1.8" height="1.8"/><rect x="2.4" y="4.65" width="1.8" height="1.8"/></g></pattern><pattern id="cg1s3" patternUnits="userSpaceOnUse" x="370.66" y="470" width="5.75" height="11.1"><rect width="5.75" height="11.1" fill="#e6e6e6"/><g fill="#747474"><rect x="0.05" y="-0.9" width="1.8" height="1.8"/><rect x="5.8" y="-0.9" width="1.8" height="1.8"/><rect x="0.05" y="10.2" width="1.8" height="1.8"/><rect x="5.8" y="10.2" width="1.8" height="1.8"/><rect x="2.8" y="4.65" width="1.8" height="1.8"/></g></pattern><pattern id="cg1s5" patternUnits="userSpaceOnUse" x="401.47" y="465.1" width="5.75" height="11.1"><rect width="5.75" height="11.1" fill="#b1b1b1"/><g fill="#585858"><rect x="-0.25" y="-0.9" width="1.8" height="1.8"/><rect x="5.5" y="-0.9" width="1.8" height="1.8"/><rect x="-0.25" y="10.2" width="1.8" height="1.8"/><rect x="5.5" y="10.2" width="1.8" height="1.8"/><rect x="2.4" y="4.65" width="1.8" height="1.8"/></g></pattern><pattern id="cg1s7" patternUnits="userSpaceOnUse" x="432.28" y="467.6" width="5.75" height="11.1"><rect width="5.75" height="11.1" fill="#5f5f5f"/><g fill="#363636"><rect x="-0.8" y="-0.9" width="1.8" height="1.8"/><rect x="4.95" y="-0.9" width="1.8" height="1.8"/><rect x="-0.8" y="10.2" width="1.8" height="1.8"/><rect x="4.95" y="10.2" width="1.8" height="1.8"/><rect x="2" y="4.65" width="1.8" height="1.8"/></g></pattern><pattern id="cg2s1" patternUnits="userSpaceOnUse" x="524.7" y="470" width="5.75" height="11.1"><rect width="5.75" height="11.1" fill="#ffffff"/><g fill="#8e8e8e"><rect x="-0.1" y="-0.9" width="1.8" height="1.8"/><rect x="5.65" y="-0.9" width="1.8" height="1.8"/><rect x="-0.1" y="10.2" width="1.8" height="1.8"/><rect x="5.65" y="10.2" width="1.8" height="1.8"/><rect x="2.4" y="4.65" width="1.8" height="1.8"/></g></pattern><pattern id="cg2s3" patternUnits="userSpaceOnUse" x="555.51" y="470" width="5.75" height="11.1"><rect width="5.75" height="11.1" fill="#e6e6e6"/><g fill="#747474"><rect x="0.05" y="-0.9" width="1.8" height="1.8"/><rect x="5.8" y="-0.9" width="1.8" height="1.8"/><rect x="0.05" y="10.2" width="1.8" height="1.8"/><rect x="5.8" y="10.2" width="1.8" height="1.8"/><rect x="2.8" y="4.65" width="1.8" height="1.8"/></g></pattern><pattern id="cg2s5" patternUnits="userSpaceOnUse" x="586.32" y="465.1" width="5.75" height="11.1"><rect width="5.75" height="11.1" fill="#b1b1b1"/><g fill="#585858"><rect x="-0.25" y="-0.9" width="1.8" height="1.8"/><rect x="5.5" y="-0.9" width="1.8" height="1.8"/><rect x="-0.25" y="10.2" width="1.8" height="1.8"/><rect x="5.5" y="10.2" width="1.8" height="1.8"/><rect x="2.4" y="4.65" width="1.8" height="1.8"/></g></pattern><pattern id="cg2s7" patternUnits="userSpaceOnUse" x="617.13" y="467.6" width="5.75" height="11.1"><rect width="5.75" height="11.1" fill="#5f5f5f"/><g fill="#363636"><rect x="-0.8" y="-0.9" width="1.8" height="1.8"/><rect x="4.95" y="-0.9" width="1.8" height="1.8"/><rect x="-0.8" y="10.2" width="1.8" height="1.8"/><rect x="4.95" y="10.2" width="1.8" height="1.8"/><rect x="2" y="4.65" width="1.8" height="1.8"/></g></pattern></defs>
<g><rect x="139.6" y="708.9" width="15.4" height="206.5" fill="#ffffff" stroke="#000" stroke-width="2.5"/><rect x="155" y="708.9" width="15.4" height="206.5" fill="url(#cg0s1)" stroke="#000" stroke-width="2.5"/><rect x="170.41" y="708.3" width="15.4" height="207.1" fill="#e2e2e2" stroke="#000" stroke-width="2.5"/><rect x="185.81" y="708.9" width="15.4" height="206.5" fill="url(#cg0s3)" stroke="#000" stroke-width="2.5"/><rect x="201.22" y="709.5" width="15.4" height="205.9" fill="#a7a7a7" stroke="#000" stroke-width="2.5"/><rect x="216.62" y="709.5" width="15.4" height="205.9" fill="url(#cg0s5)" stroke="#000" stroke-width="2.5"/><rect x="232.02" y="717.1" width="15.4" height="198.3" fill="#5b5b5b" stroke="#000" stroke-width="2.5"/><rect x="247.43" y="719" width="15.4" height="196.4" fill="url(#cg0s7)" stroke="#000" stroke-width="2.5"/><rect x="262.83" y="727.2" width="15.4" height="188.2" fill="#262626" stroke="#000" stroke-width="2.5"/><rect x="278.24" y="799.7" width="15.4" height="115.7" fill="#000000" stroke="#000" stroke-width="2.5"/><rect x="293.64" y="913.9" width="15.4" height="1.5" fill="url(#ptx)" stroke="#000" stroke-width="2.5"/><rect x="299.14" y="912.1" width="9" height="3" fill="#000"/><rect x="324.45" y="709.2" width="15.4" height="206.2" fill="#ffffff" stroke="#000" stroke-width="2.5"/><rect x="339.85" y="714" width="15.4" height="201.4" fill="url(#cg1s1)" stroke="#000" stroke-width="2.5"/><rect x="355.26" y="723.1" width="15.4" height="192.3" fill="#e2e2e2" stroke="#000" stroke-width="2.5"/><rect x="370.66" y="724.1" width="15.4" height="191.3" fill="url(#cg1s3)" stroke="#000" stroke-width="2.5"/><rect x="386.07" y="724.7" width="15.4" height="190.7" fill="#a7a7a7" stroke="#000" stroke-width="2.5"/><rect x="401.47" y="724.7" width="15.4" height="190.7" fill="url(#cg1s5)" stroke="#000" stroke-width="2.5"/><rect x="416.88" y="724.7" width="15.4" height="190.7" fill="#5b5b5b" stroke="#000" stroke-width="2.5"/><rect x="432.28" y="725.2" width="15.4" height="190.2" fill="url(#cg1s7)" stroke="#000" stroke-width="2.5"/><rect x="447.68" y="729.5" width="15.4" height="185.9" fill="#262626" stroke="#000" stroke-width="2.5"/><rect x="463.09" y="769" width="15.4" height="146.4" fill="#000000" stroke="#000" stroke-width="2.5"/><rect x="478.49" y="913.9" width="15.4" height="1.5" fill="url(#ptx)" stroke="#000" stroke-width="2.5"/><rect x="483.99" y="912.1" width="9" height="3" fill="#000"/><rect x="509.3" y="709.2" width="15.4" height="206.2" fill="#ffffff" stroke="#000" stroke-width="2.5"/><rect x="524.7" y="714.4" width="15.4" height="201" fill="url(#cg2s1)" stroke="#000" stroke-width="2.5"/><rect x="540.11" y="720.8" width="15.4" height="194.6" fill="#e2e2e2" stroke="#000" stroke-width="2.5"/><rect x="555.51" y="724.3" width="15.4" height="191.1" fill="url(#cg2s3)" stroke="#000" stroke-width="2.5"/><rect x="570.92" y="726.1" width="15.4" height="189.3" fill="#a7a7a7" stroke="#000" stroke-width="2.5"/><rect x="586.32" y="727.8" width="15.4" height="187.6" fill="url(#cg2s5)" stroke="#000" stroke-width="2.5"/><rect x="601.72" y="730.7" width="15.4" height="184.7" fill="#5b5b5b" stroke="#000" stroke-width="2.5"/><rect x="617.13" y="734.2" width="15.4" height="181.2" fill="url(#cg2s7)" stroke="#000" stroke-width="2.5"/><rect x="632.53" y="758.1" width="15.4" height="157.3" fill="#262626" stroke="#000" stroke-width="2.5"/><rect x="647.94" y="795.4" width="15.4" height="120" fill="#000000" stroke="#000" stroke-width="2.5"/><rect x="663.34" y="913.9" width="15.4" height="1.5" fill="url(#ptx)" stroke="#000" stroke-width="2.5"/><rect x="668.84" y="912.1" width="9" height="3" fill="#000"/></g>
<path d="M162.71 707.4V710.4M178.11 703.9V712.7M193.51 703.3V714.5M208.92 704.5V714.5M224.32 708V711M239.73 703.6V730.6M255.13 713.3V724.7M270.54 713.3V741.1M285.94 788.4V811M347.56 712.5V715.5M362.96 719.9V726.3M378.36 722.6V725.6M393.77 719.1V730.3M409.17 719.4V730M424.58 721.2V728.2M439.98 720.9V729.5M455.39 723.9V735.1M470.79 760.4V777.6M532.41 712.9V715.9M547.81 719.3V722.3M563.21 720.8V727.8M578.62 722.6V729.6M594.02 724.3V731.3M609.43 725.7V735.7M624.83 730.4V738M640.24 747V769.2M655.64 777.3V813.5" stroke="#000" stroke-width="2.4" fill="none"/>
<path d="M159.71 707.4H165.71M159.71 710.4H165.71M175.11 703.9H181.11M175.11 712.7H181.11M190.51 703.3H196.51M190.51 714.5H196.51M205.92 704.5H211.92M205.92 714.5H211.92M221.32 708H227.32M221.32 711H227.32M236.73 703.6H242.73M236.73 730.6H242.73M252.13 713.3H258.13M252.13 724.7H258.13M267.54 713.3H273.54M267.54 741.1H273.54M282.94 788.4H288.94M282.94 811H288.94M344.56 712.5H350.56M344.56 715.5H350.56M359.96 719.9H365.96M359.96 726.3H365.96M375.36 722.6H381.36M375.36 725.6H381.36M390.77 719.1H396.77M390.77 730.3H396.77M406.17 719.4H412.17M406.17 730H412.17M421.58 721.2H427.58M421.58 728.2H427.58M436.98 720.9H442.98M436.98 729.5H442.98M452.39 723.9H458.39M452.39 735.1H458.39M467.79 760.4H473.79M467.79 777.6H473.79M529.41 712.9H535.41M529.41 715.9H535.41M544.81 719.3H550.81M544.81 722.3H550.81M560.21 720.8H566.21M560.21 727.8H566.21M575.62 722.6H581.62M575.62 729.6H581.62M591.02 724.3H597.02M591.02 731.3H597.02M606.43 725.7H612.43M606.43 735.7H612.43M621.83 730.4H627.83M621.83 738H627.83M637.24 747H643.24M637.24 769.2H643.24M652.64 777.3H658.64M652.64 813.5H658.64" stroke="#000" stroke-width="2.8" fill="none"/>
<g text-anchor="middle" font-size="13.5" font-weight="bold" letter-spacing="1.6" stroke="#000" stroke-width="0.4" stroke-linejoin="round"><text x="288.94" y="785.7">***</text><text x="306.34" y="912">***</text><text x="473.79" y="756.5">***</text><text x="491.19" y="912">***</text><text x="640.54" y="743.3">*</text><text x="658.64" y="774.2">***</text><text x="676.04" y="912">***</text></g>
<path d="M131.5 604.75V916.7M130.2 915.4H693.7" stroke="#000" stroke-width="2.7" fill="none"/>
<path d="M122.3 605.95H131.5M122.3 709.1H131.5M122.3 812.25H131.5M122.3 915.4H131.5M224.32 915.4V924M409.17 915.4V924M594.02 915.4V924" stroke="#000" stroke-width="2.2" fill="none"/>
<text transform="translate(120.5,613.15) scale(0.93,1)" font-size="22" font-weight="bold" text-anchor="end" >150</text>
<text transform="translate(120.5,716.3) scale(0.93,1)" font-size="22" font-weight="bold" text-anchor="end" >100</text>
<text transform="translate(120.5,819.45) scale(0.93,1)" font-size="22" font-weight="bold" text-anchor="end" >50</text>
<text transform="translate(120.5,922.6) scale(0.93,1)" font-size="22" font-weight="bold" text-anchor="end" >0</text>
<text transform="translate(224.32,943.6) scale(0.93,1)" font-size="22.5" font-weight="bold" text-anchor="middle" >24</text>
<text transform="translate(409.17,943.6) scale(0.93,1)" font-size="22.5" font-weight="bold" text-anchor="middle" >48</text>
<text transform="translate(594.02,943.6) scale(0.93,1)" font-size="22.5" font-weight="bold" text-anchor="middle" >72</text>
<text transform="translate(412.5,975.4) scale(0.95,1)" font-size="23.2" font-weight="bold" text-anchor="middle" textLength="82.5">Time<tspan font-weight="normal" stroke="#000" stroke-width="0.55">(h)</tspan></text>
<rect x="756" y="616.9" width="29.4" height="15.4" stroke-linejoin="round" fill="#ffffff" stroke="#000" stroke-width="2.6"/>
<text transform="translate(801.4,632.7) scale(0.965,1)" font-size="24" font-weight="normal" text-anchor="start" >Ctrl</text>
<rect x="756" y="654.3" width="29.4" height="15.4" stroke-linejoin="round" fill="url(#p025)" stroke="#000" stroke-width="2.6"/>
<text transform="translate(801.4,670.1) scale(0.965,1)" font-size="24" font-weight="normal" text-anchor="start" >0.025</text>
<rect x="756" y="689.2" width="29.4" height="15.4" stroke-linejoin="round" fill="#e2e2e2" stroke="#000" stroke-width="2.6"/>
<text transform="translate(801.4,705) scale(0.965,1)" font-size="24" font-weight="normal" text-anchor="start" >0.05</text>
<rect x="756" y="728.4" width="29.4" height="15.4" stroke-linejoin="round" fill="url(#p075)" stroke="#000" stroke-width="2.6"/>
<text transform="translate(801.4,744.2) scale(0.965,1)" font-size="24" font-weight="normal" text-anchor="start" >0.075</text>
<rect x="756" y="766.2" width="29.4" height="15.4" stroke-linejoin="round" fill="#a7a7a7" stroke="#000" stroke-width="2.6"/>
<text transform="translate(801.4,782) scale(0.965,1)" font-size="24" font-weight="normal" text-anchor="start" >0.1</text>
<rect x="756" y="803.3" width="29.4" height="15.4" stroke-linejoin="round" fill="url(#p125)" stroke="#000" stroke-width="2.6"/>
<text transform="translate(801.4,819.1) scale(0.965,1)" font-size="24" font-weight="normal" text-anchor="start" >0.125</text>
<rect x="756" y="840.9" width="29.4" height="15.4" stroke-linejoin="round" fill="#5b5b5b" stroke="#000" stroke-width="2.6"/>
<text transform="translate(801.4,856.7) scale(0.965,1)" font-size="24" font-weight="normal" text-anchor="start" >0.15</text>
<rect x="756" y="878.4" width="29.4" height="15.4" stroke-linejoin="round" fill="url(#p25)" stroke="#000" stroke-width="2.6"/>
<text transform="translate(801.4,894.2) scale(0.965,1)" font-size="24" font-weight="normal" text-anchor="start" >0.25</text>
<rect x="756" y="917.9" width="29.4" height="15.4" stroke-linejoin="round" fill="#262626" stroke="#000" stroke-width="2.6"/>
<text transform="translate(801.4,933.7) scale(0.965,1)" font-size="24" font-weight="normal" text-anchor="start" >0.3</text>
<rect x="756" y="949.5" width="29.4" height="15.4" stroke-linejoin="round" fill="#000000" stroke="#000" stroke-width="2.6"/>
<text transform="translate(801.4,965.3) scale(0.965,1)" font-size="24" font-weight="normal" text-anchor="start" >0.5</text>
<rect x="756" y="981.9" width="29.4" height="15.4" stroke-linejoin="round" fill="#fff" stroke="#000" stroke-width="2.6"/>
<path d="M764.9 982V997.2M775.5 982V997.2" stroke="#000" stroke-width="2.4"/>
<text transform="translate(801.4,997.7) scale(0.965,1)" font-size="24" font-weight="normal" text-anchor="start" textLength="74.5">TX-100</text>
<rect x="913.5" y="528.3" width="895.7" height="501.2" fill="none" stroke="#000" stroke-width="2.8"/>
<text transform="translate(1275.1,570.8) scale(1.02,1)" font-size="30.5" font-weight="normal" text-anchor="start" letter-spacing="-1.0" stroke="#000" stroke-width="0.55">HMW HA</text>
<text transform="translate(954.2,762.4) rotate(-90)" font-size="21.5" font-weight="bold" text-anchor="middle" textLength="211" lengthAdjust="spacingAndGlyphs">Viability of Keratocyte</text>
<text transform="translate(979.2,761.7) rotate(-90)" font-size="21.5" font-weight="bold" text-anchor="middle" textLength="186" lengthAdjust="spacingAndGlyphs"><tspan font-weight="normal" stroke="#000" stroke-width="0.4">(</tspan>Relative to Ctrl <tspan font-weight="normal" stroke="#000" stroke-width="0.4">%<tspan dx="2">)</tspan></tspan></text>
<defs><pattern id="dg0s1" patternUnits="userSpaceOnUse" x="1066.95" y="471.7" width="5.75" height="11.1"><rect width="5.75" height="11.1" fill="#ffffff"/><g fill="#8e8e8e"><rect x="-0.1" y="-0.9" width="1.8" height="1.8"/><rect x="5.65" y="-0.9" width="1.8" height="1.8"/><rect x="-0.1" y="10.2" width="1.8" height="1.8"/><rect x="5.65" y="10.2" width="1.8" height="1.8"/><rect x="2.4" y="4.65" width="1.8" height="1.8"/></g></pattern><pattern id="dg0s3" patternUnits="userSpaceOnUse" x="1097.84" y="471.7" width="5.75" height="11.1"><rect width="5.75" height="11.1" fill="#e6e6e6"/><g fill="#747474"><rect x="0.05" y="-0.9" width="1.8" height="1.8"/><rect x="5.8" y="-0.9" width="1.8" height="1.8"/><rect x="0.05" y="10.2" width="1.8" height="1.8"/><rect x="5.8" y="10.2" width="1.8" height="1.8"/><rect x="2.8" y="4.65" width="1.8" height="1.8"/></g></pattern><pattern id="dg0s5" patternUnits="userSpaceOnUse" x="1128.73" y="466.8" width="5.75" height="11.1"><rect width="5.75" height="11.1" fill="#b1b1b1"/><g fill="#585858"><rect x="-0.25" y="-0.9" width="1.8" height="1.8"/><rect x="5.5" y="-0.9" width="1.8" height="1.8"/><rect x="-0.25" y="10.2" width="1.8" height="1.8"/><rect x="5.5" y="10.2" width="1.8" height="1.8"/><rect x="2.4" y="4.65" width="1.8" height="1.8"/></g></pattern><pattern id="dg0s7" patternUnits="userSpaceOnUse" x="1159.62" y="469.3" width="5.75" height="11.1"><rect width="5.75" height="11.1" fill="#5f5f5f"/><g fill="#363636"><rect x="-0.8" y="-0.9" width="1.8" height="1.8"/><rect x="4.95" y="-0.9" width="1.8" height="1.8"/><rect x="-0.8" y="10.2" width="1.8" height="1.8"/><rect x="4.95" y="10.2" width="1.8" height="1.8"/><rect x="2" y="4.65" width="1.8" height="1.8"/></g></pattern><pattern id="dg1s1" patternUnits="userSpaceOnUse" x="1252.3" y="471.7" width="5.75" height="11.1"><rect width="5.75" height="11.1" fill="#ffffff"/><g fill="#8e8e8e"><rect x="-0.1" y="-0.9" width="1.8" height="1.8"/><rect x="5.65" y="-0.9" width="1.8" height="1.8"/><rect x="-0.1" y="10.2" width="1.8" height="1.8"/><rect x="5.65" y="10.2" width="1.8" height="1.8"/><rect x="2.4" y="4.65" width="1.8" height="1.8"/></g></pattern><pattern id="dg1s3" patternUnits="userSpaceOnUse" x="1283.19" y="471.7" width="5.75" height="11.1"><rect width="5.75" height="11.1" fill="#e6e6e6"/><g fill="#747474"><rect x="0.05" y="-0.9" width="1.8" height="1.8"/><rect x="5.8" y="-0.9" width="1.8" height="1.8"/><rect x="0.05" y="10.2" width="1.8" height="1.8"/><rect x="5.8" y="10.2" width="1.8" height="1.8"/><rect x="2.8" y="4.65" width="1.8" height="1.8"/></g></pattern><pattern id="dg1s5" patternUnits="userSpaceOnUse" x="1314.08" y="466.8" width="5.75" height="11.1"><rect width="5.75" height="11.1" fill="#b1b1b1"/><g fill="#585858"><rect x="-0.25" y="-0.9" width="1.8" height="1.8"/><rect x="5.5" y="-0.9" width="1.8" height="1.8"/><rect x="-0.25" y="10.2" width="1.8" height="1.8"/><rect x="5.5" y="10.2" width="1.8" height="1.8"/><rect x="2.4" y="4.65" width="1.8" height="1.8"/></g></pattern><pattern id="dg1s7" patternUnits="userSpaceOnUse" x="1344.97" y="469.3" width="5.75" height="11.1"><rect width="5.75" height="11.1" fill="#5f5f5f"/><g fill="#363636"><rect x="-0.8" y="-0.9" width="1.8" height="1.8"/><rect x="4.95" y="-0.9" width="1.8" height="1.8"/><rect x="-0.8" y="10.2" width="1.8" height="1.8"/><rect x="4.95" y="10.2" width="1.8" height="1.8"/><rect x="2" y="4.65" width="1.8" height="1.8"/></g></pattern><pattern id="dg2s1" patternUnits="userSpaceOnUse" x="1437.65" y="471.7" width="5.75" height="11.1"><rect width="5.75" height="11.1" fill="#ffffff"/><g fill="#8e8e8e"><rect x="-0.1" y="-0.9" width="1.8" height="1.8"/><rect x="5.65" y="-0.9" width="1.8" height="1.8"/><rect x="-0.1" y="10.2" width="1.8" height="1.8"/><rect x="5.65" y="10.2" width="1.8" height="1.8"/><rect x="2.4" y="4.65" width="1.8" height="1.8"/></g></pattern><pattern id="dg2s3" patternUnits="userSpaceOnUse" x="1468.54" y="471.7" width="5.75" height="11.1"><rect width="5.75" height="11.1" fill="#e6e6e6"/><g fill="#747474"><rect x="0.05" y="-0.9" width="1.8" height="1.8"/><rect x="5.8" y="-0.9" width="1.8" height="1.8"/><rect x="0.05" y="10.2" width="1.8" height="1.8"/><rect x="5.8" y="10.2" width="1.8" height="1.8"/><rect x="2.8" y="4.65" width="1.8" height="1.8"/></g></pattern><pattern id="dg2s5" patternUnits="userSpaceOnUse" x="1499.43" y="466.8" width="5.75" height="11.1"><rect width="5.75" height="11.1" fill="#b1b1b1"/><g fill="#585858"><rect x="-0.25" y="-0.9" width="1.8" height="1.8"/><rect x="5.5" y="-0.9" width="1.8" height="1.8"/><rect x="-0.25" y="10.2" width="1.8" height="1.8"/><rect x="5.5" y="10.2" width="1.8" height="1.8"/><rect x="2.4" y="4.65" width="1.8" height="1.8"/></g></pattern><pattern id="dg2s7" patternUnits="userSpaceOnUse" x="1530.32" y="469.3" width="5.75" height="11.1"><rect width="5.75" height="11.1" fill="#5f5f5f"/><g fill="#363636"><rect x="-0.8" y="-0.9" width="1.8" height="1.8"/><rect x="4.95" y="-0.9" width="1.8" height="1.8"/><rect x="-0.8" y="10.2" width="1.8" height="1.8"/><rect x="4.95" y="10.2" width="1.8" height="1.8"/><rect x="2" y="4.65" width="1.8" height="1.8"/></g></pattern></defs>
<g><rect x="1051.5" y="710.5" width="15.45" height="206.6" fill="#ffffff" stroke="#000" stroke-width="2.5"/><rect x="1066.95" y="708.3" width="15.45" height="208.8" fill="url(#dg0s1)" stroke="#000" stroke-width="2.5"/><rect x="1082.39" y="706.7" width="15.45" height="210.4" fill="#e2e2e2" stroke="#000" stroke-width="2.5"/><rect x="1097.84" y="707.2" width="15.45" height="209.9" fill="url(#dg0s3)" stroke="#000" stroke-width="2.5"/><rect x="1113.28" y="708.8" width="15.45" height="208.3" fill="#a7a7a7" stroke="#000" stroke-width="2.5"/><rect x="1128.73" y="710.5" width="15.45" height="206.6" fill="url(#dg0s5)" stroke="#000" stroke-width="2.5"/><rect x="1144.17" y="708.8" width="15.45" height="208.3" fill="#5b5b5b" stroke="#000" stroke-width="2.5"/><rect x="1159.62" y="712.1" width="15.45" height="205" fill="url(#dg0s7)" stroke="#000" stroke-width="2.5"/><rect x="1175.07" y="740.6" width="15.45" height="176.5" fill="#262626" stroke="#000" stroke-width="2.5"/><rect x="1190.51" y="744.4" width="15.45" height="172.7" fill="#000000" stroke="#000" stroke-width="2.5"/><rect x="1205.96" y="915.6" width="15.45" height="1.5" fill="url(#ptx)" stroke="#000" stroke-width="2.5"/><rect x="1211.46" y="913.8" width="9" height="3" fill="#000"/><rect x="1236.85" y="710.8" width="15.45" height="206.3" fill="#ffffff" stroke="#000" stroke-width="2.5"/><rect x="1252.3" y="710.3" width="15.45" height="206.8" fill="url(#dg1s1)" stroke="#000" stroke-width="2.5"/><rect x="1267.74" y="710.3" width="15.45" height="206.8" fill="#e2e2e2" stroke="#000" stroke-width="2.5"/><rect x="1283.19" y="711.9" width="15.45" height="205.2" fill="url(#dg1s3)" stroke="#000" stroke-width="2.5"/><rect x="1298.63" y="715.6" width="15.45" height="201.5" fill="#a7a7a7" stroke="#000" stroke-width="2.5"/><rect x="1314.08" y="721.5" width="15.45" height="195.6" fill="url(#dg1s5)" stroke="#000" stroke-width="2.5"/><rect x="1329.52" y="726.3" width="15.45" height="190.8" fill="#5b5b5b" stroke="#000" stroke-width="2.5"/><rect x="1344.97" y="730.5" width="15.45" height="186.6" fill="url(#dg1s7)" stroke="#000" stroke-width="2.5"/><rect x="1360.42" y="739.6" width="15.45" height="177.5" fill="#262626" stroke="#000" stroke-width="2.5"/><rect x="1375.86" y="775.3" width="15.45" height="141.8" fill="#000000" stroke="#000" stroke-width="2.5"/><rect x="1391.31" y="915.6" width="15.45" height="1.5" fill="url(#ptx)" stroke="#000" stroke-width="2.5"/><rect x="1396.81" y="913.8" width="9" height="3" fill="#000"/><rect x="1422.2" y="710.9" width="15.45" height="206.2" fill="#ffffff" stroke="#000" stroke-width="2.5"/><rect x="1437.65" y="710.3" width="15.45" height="206.8" fill="url(#dg2s1)" stroke="#000" stroke-width="2.5"/><rect x="1453.09" y="713.8" width="15.45" height="203.3" fill="#e2e2e2" stroke="#000" stroke-width="2.5"/><rect x="1468.54" y="714.9" width="15.45" height="202.2" fill="url(#dg2s3)" stroke="#000" stroke-width="2.5"/><rect x="1483.98" y="716.1" width="15.45" height="201" fill="#a7a7a7" stroke="#000" stroke-width="2.5"/><rect x="1499.43" y="723.6" width="15.45" height="193.5" fill="url(#dg2s5)" stroke="#000" stroke-width="2.5"/><rect x="1514.88" y="728.8" width="15.45" height="188.3" fill="#5b5b5b" stroke="#000" stroke-width="2.5"/><rect x="1530.32" y="731.2" width="15.45" height="185.9" fill="url(#dg2s7)" stroke="#000" stroke-width="2.5"/><rect x="1545.77" y="741" width="15.45" height="176.1" fill="#262626" stroke="#000" stroke-width="2.5"/><rect x="1561.21" y="776.4" width="15.45" height="140.7" fill="#000000" stroke="#000" stroke-width="2.5"/><rect x="1576.66" y="915.6" width="15.45" height="1.5" fill="url(#ptx)" stroke="#000" stroke-width="2.5"/><rect x="1582.16" y="913.8" width="9" height="3" fill="#000"/></g>
<path d="M1074.67 706.8V709.8M1090.11 705.2V708.2M1105.56 701.3V713.1M1121.01 699.4V718.2M1136.45 701.9V719.1M1151.9 698.6V719M1167.34 703.8V720.4M1182.79 733.3V747.9M1198.24 729.3V759.5M1260.02 706V714.6M1275.46 704.7V715.9M1290.91 705.7V718.1M1306.36 709.8V721.4M1321.8 718.3V724.7M1337.25 721V731.6M1352.69 729V732M1368.14 731.9V747.3M1383.59 771.1V779.5M1445.37 708.8V711.8M1460.81 712.3V715.3M1476.26 713.4V716.4M1491.71 714.6V717.6M1507.15 712.3V734.9M1522.6 718.6V739M1538.04 724.6V737.8M1553.49 728.3V753.7M1568.94 770V782.8" stroke="#000" stroke-width="2.4" fill="none"/>
<path d="M1071.67 706.8H1077.67M1071.67 709.8H1077.67M1087.11 705.2H1093.11M1087.11 708.2H1093.11M1102.56 701.3H1108.56M1102.56 713.1H1108.56M1118.01 699.4H1124.01M1118.01 718.2H1124.01M1133.45 701.9H1139.45M1133.45 719.1H1139.45M1148.9 698.6H1154.9M1148.9 719H1154.9M1164.34 703.8H1170.34M1164.34 720.4H1170.34M1179.79 733.3H1185.79M1179.79 747.9H1185.79M1195.24 729.3H1201.24M1195.24 759.5H1201.24M1257.02 706H1263.02M1257.02 714.6H1263.02M1272.46 704.7H1278.46M1272.46 715.9H1278.46M1287.91 705.7H1293.91M1287.91 718.1H1293.91M1303.36 709.8H1309.36M1303.36 721.4H1309.36M1318.8 718.3H1324.8M1318.8 724.7H1324.8M1334.25 721H1340.25M1334.25 731.6H1340.25M1349.69 729H1355.69M1349.69 732H1355.69M1365.14 731.9H1371.14M1365.14 747.3H1371.14M1380.59 771.1H1386.59M1380.59 779.5H1386.59M1442.37 708.8H1448.37M1442.37 711.8H1448.37M1457.81 712.3H1463.81M1457.81 715.3H1463.81M1473.26 713.4H1479.26M1473.26 716.4H1479.26M1488.71 714.6H1494.71M1488.71 717.6H1494.71M1504.15 712.3H1510.15M1504.15 734.9H1510.15M1519.6 718.6H1525.6M1519.6 739H1525.6M1535.04 724.6H1541.04M1535.04 737.8H1541.04M1550.49 728.3H1556.49M1550.49 753.7H1556.49M1565.94 770H1571.94M1565.94 782.8H1571.94" stroke="#000" stroke-width="2.8" fill="none"/>
<g text-anchor="middle" font-size="13.5" font-weight="bold" letter-spacing="1.6" stroke="#000" stroke-width="0.4" stroke-linejoin="round"><text x="1183.39" y="731.7">**</text><text x="1201.24" y="726.4">***</text><text x="1218.68" y="913.7">***</text><text x="1368.74" y="728.7">**</text><text x="1386.59" y="767.7">***</text><text x="1404.03" y="913.7">***</text><text x="1554.09" y="725.8">**</text><text x="1571.94" y="767.5">***</text><text x="1589.38" y="913.7">***</text></g>
<path d="M1043.6 606.3V918.4M1042.3 917.1H1606.5" stroke="#000" stroke-width="2.7" fill="none"/>
<path d="M1034.4 607.5H1043.6M1034.4 710.7H1043.6M1034.4 813.9H1043.6M1034.4 917.1H1043.6M1136.45 917.1V925.7M1321.8 917.1V925.7M1507.15 917.1V925.7" stroke="#000" stroke-width="2.2" fill="none"/>
<text transform="translate(1032.6,614.7) scale(0.93,1)" font-size="22" font-weight="bold" text-anchor="end" >150</text>
<text transform="translate(1032.6,717.9) scale(0.93,1)" font-size="22" font-weight="bold" text-anchor="end" >100</text>
<text transform="translate(1032.6,821.1) scale(0.93,1)" font-size="22" font-weight="bold" text-anchor="end" >50</text>
<text transform="translate(1032.6,924.3) scale(0.93,1)" font-size="22" font-weight="bold" text-anchor="end" >0</text>
<text transform="translate(1136.45,945.3) scale(0.93,1)" font-size="22.5" font-weight="bold" text-anchor="middle" >24</text>
<text transform="translate(1321.8,945.3) scale(0.93,1)" font-size="22.5" font-weight="bold" text-anchor="middle" >48</text>
<text transform="translate(1507.15,945.3) scale(0.93,1)" font-size="22.5" font-weight="bold" text-anchor="middle" >72</text>
<text transform="translate(1325.2,977.1) scale(0.95,1)" font-size="23.2" font-weight="bold" text-anchor="middle" textLength="82.5">Time<tspan font-weight="normal" stroke="#000" stroke-width="0.55">(h)</tspan></text>
<rect x="1669.1" y="618.6" width="29.4" height="15.4" stroke-linejoin="round" fill="#ffffff" stroke="#000" stroke-width="2.6"/>
<text transform="translate(1714.5,634.4) scale(0.965,1)" font-size="24" font-weight="normal" text-anchor="start" >Ctrl</text>
<rect x="1669.1" y="656" width="29.4" height="15.4" stroke-linejoin="round" fill="url(#p025)" stroke="#000" stroke-width="2.6"/>
<text transform="translate(1714.5,671.8) scale(0.965,1)" font-size="24" font-weight="normal" text-anchor="start" >0.025</text>
<rect x="1669.1" y="690.9" width="29.4" height="15.4" stroke-linejoin="round" fill="#e2e2e2" stroke="#000" stroke-width="2.6"/>
<text transform="translate(1714.5,706.7) scale(0.965,1)" font-size="24" font-weight="normal" text-anchor="start" >0.05</text>
<rect x="1669.1" y="730.1" width="29.4" height="15.4" stroke-linejoin="round" fill="url(#p075)" stroke="#000" stroke-width="2.6"/>
<text transform="translate(1714.5,745.9) scale(0.965,1)" font-size="24" font-weight="normal" text-anchor="start" >0.075</text>
<rect x="1669.1" y="767.9" width="29.4" height="15.4" stroke-linejoin="round" fill="#a7a7a7" stroke="#000" stroke-width="2.6"/>
<text transform="translate(1714.5,783.7) scale(0.965,1)" font-size="24" font-weight="normal" text-anchor="start" >0.1</text>
<rect x="1669.1" y="805" width="29.4" height="15.4" stroke-linejoin="round" fill="url(#p125)" stroke="#000" stroke-width="2.6"/>
<text transform="translate(1714.5,820.8) scale(0.965,1)" font-size="24" font-weight="normal" text-anchor="start" >0.125</text>
<rect x="1669.1" y="842.6" width="29.4" height="15.4" stroke-linejoin="round" fill="#5b5b5b" stroke="#000" stroke-width="2.6"/>
<text transform="translate(1714.5,858.4) scale(0.965,1)" font-size="24" font-weight="normal" text-anchor="start" >0.15</text>
<rect x="1669.1" y="880.1" width="29.4" height="15.4" stroke-linejoin="round" fill="url(#p25)" stroke="#000" stroke-width="2.6"/>
<text transform="translate(1714.5,895.9) scale(0.965,1)" font-size="24" font-weight="normal" text-anchor="start" >0.25</text>
<rect x="1669.1" y="919.6" width="29.4" height="15.4" stroke-linejoin="round" fill="#262626" stroke="#000" stroke-width="2.6"/>
<text transform="translate(1714.5,935.4) scale(0.965,1)" font-size="24" font-weight="normal" text-anchor="start" >0.3</text>
<rect x="1669.1" y="951.2" width="29.4" height="15.4" stroke-linejoin="round" fill="#000000" stroke="#000" stroke-width="2.6"/>
<text transform="translate(1714.5,967) scale(0.965,1)" font-size="24" font-weight="normal" text-anchor="start" >0.5</text>
<rect x="1669.1" y="983.6" width="29.4" height="15.4" stroke-linejoin="round" fill="#fff" stroke="#000" stroke-width="2.6"/>
<path d="M1678 983.7V998.9M1688.6 983.7V998.9" stroke="#000" stroke-width="2.4"/>
<text transform="translate(1714.5,999.4) scale(0.965,1)" font-size="24" font-weight="normal" text-anchor="start" textLength="74.5">TX-100</text>
<rect x="286.6" y="557.6" width="2.4" height="4.4" fill="#000"/>
</svg>
</body></html>
